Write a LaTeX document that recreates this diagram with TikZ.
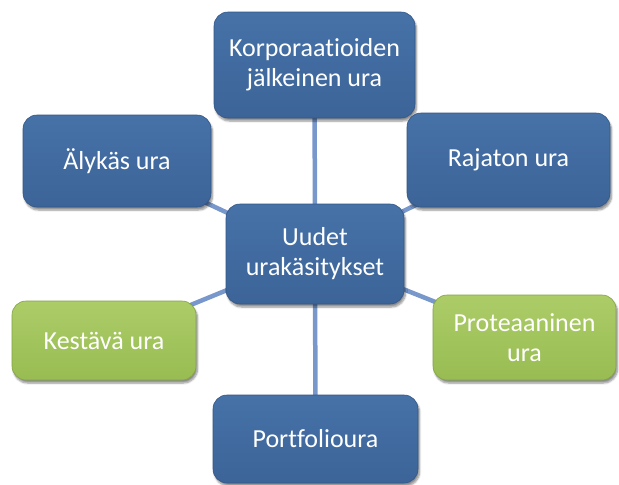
\documentclass[tikz,border=0pt]{standalone}
\usepackage{fontspec}
\setmainfont[Ligatures=NoCommon]{Carlito}
\usetikzlibrary{shadows.blur}
\pgfdeclarelayer{background}
\pgfsetlayers{background,main}
\definecolor{boxtop}{RGB}{70,114,168}
\definecolor{boxbot}{RGB}{60,100,152}
\definecolor{boxedge}{RGB}{50,86,134}
\definecolor{greentop}{RGB}{172,204,104}
\definecolor{greenbot}{RGB}{152,188,82}
\definecolor{greenedge}{RGB}{130,164,66}
\definecolor{linkcol}{RGB}{120,152,204}
\tikzset{
  card/.style={rounded corners=14pt, inner sep=0pt, align=center,
    text=white, font=\fontsize{26}{30}\selectfont,
    blur shadow={shadow xshift=1.5pt, shadow yshift=-3pt, shadow blur steps=6,
      shadow blur extra rounding=2pt, shadow opacity=45}},
  bluecard/.style={card, top color=boxtop, bottom color=boxbot, draw=boxedge, line width=0.6pt},
  greencard/.style={card, top color=greentop, bottom color=greenbot, draw=greenedge, line width=0.6pt},
  link/.style={draw=linkcol, line width=4.5pt}
}
\begin{document}
\begin{tikzpicture}[x=1pt,y=-1pt]
  \useasboundingbox (0,0) rectangle (619,485);
  % hub and surrounding career concepts
  \node[bluecard, minimum width=178pt, minimum height=100pt] (hub) at (315,254) {Uudet\\urakäsitykset};
  \node[bluecard, minimum width=201pt, minimum height=106pt] (korp) at (314.5,65) {Korporaatioiden\\jälkeinen ura};
  \node[bluecard, minimum width=188pt, minimum height=92pt] (alykas) at (117,161) {Älykäs ura};
  \node[bluecard, minimum width=203pt, minimum height=94pt] (rajaton) at (508.5,160) {Rajaton ura};
  \node[greencard, minimum width=184pt, minimum height=79pt] (kestava) at (104,340.5) {Kestävä ura};
  \node[greencard, minimum width=183pt, minimum height=85pt] (protea) at (524.5,337.5) {Proteaaninen\\ura};
  \node[bluecard, minimum width=205pt, minimum height=88pt] (portfolio) at (315.5,439) {Portfolioura};
  % spokes run behind the cards
  \begin{pgfonlayer}{background}
    \foreach \n in {korp,alykas,rajaton,kestava,protea,portfolio}
      \draw[link] (hub.center) -- (\n.center);
  \end{pgfonlayer}
\end{tikzpicture}
\end{document}
